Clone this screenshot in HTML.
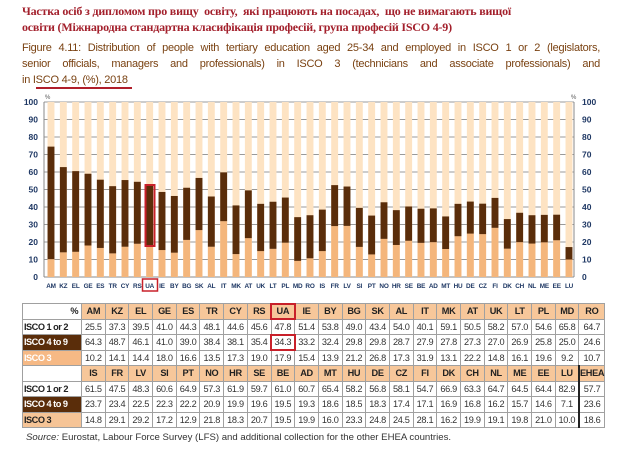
<!DOCTYPE html>
<html><head><meta charset="utf-8"><style>
body{margin:0;width:620px;height:460px;background:#fff;position:relative;overflow:hidden;font-family:"Liberation Sans",sans-serif}
.t1{position:absolute;left:22px;top:3px;width:600px;font-family:"Liberation Serif",serif;font-weight:bold;color:#a3202c;font-size:12px;line-height:16px;letter-spacing:-0.2px;white-space:nowrap}
.t2{position:absolute;left:22px;top:40px;width:578px;color:#7a4212;font-size:11px;line-height:16px;letter-spacing:-0.25px}
.t2 span{display:block;text-align:justify;text-align-last:justify;white-space:nowrap}
.t2 span.last{text-align-last:left}
.ul{position:absolute;left:36px;top:87px;width:96px;height:2px;background:#b01e2a}
svg{position:absolute;left:0;top:0}
table{position:absolute;left:22px;top:303px;border-collapse:collapse;table-layout:fixed;font-size:9.2px;letter-spacing:-0.3px}
td{border:1px solid #a0a0a0;height:14.5px;padding:0;text-align:center;color:#333}
td.l{width:54px;text-align:left;font-weight:bold;color:#222;padding-left:1px;letter-spacing:-0.5px}
tr.h td{background:#f7c79a;font-weight:bold;color:#222}
tr.h td.l{background:#fff;text-align:right;padding-right:3px}
td.d{background:#5a2d0a;color:#fff}
td.o{background:#f6b985;color:#fff}
td.o2{background:#f6c496;color:#222}
td.e{border-left:2px solid #222}
.src{position:absolute;left:26px;top:432px;font-size:9.6px;color:#333}
</style></head><body>
<div class="t1">Частка осіб з дипломом про вищу&nbsp; освіту,&nbsp; які працюють на посадах,&nbsp; що не вимагають вищої<br>освіти (Міжнародна стандартна класифікація професій, група професій ISCO 4-9)</div>
<div class="t2"><span>Figure 4.11: Distribution of people with tertiary education aged 25-34 and employed in ISCO 1 or 2 (legislators,</span><span>senior officials, managers and professionals) in ISCO 3 (technicians and associate professionals) and</span><span class="last">in ISCO 4-9, (%), 2018</span></div>
<div class="ul"></div>
<svg width="620" height="300" viewBox="0 0 620 300">
<g stroke="#999" stroke-width="1">
<line x1="44" x2="574" y1="102" y2="102"/><line x1="44" x2="574" y1="119.5" y2="119.5"/><line x1="44" x2="574" y1="137" y2="137"/><line x1="44" x2="574" y1="154.5" y2="154.5"/><line x1="44" x2="574" y1="172" y2="172"/><line x1="44" x2="574" y1="189.5" y2="189.5"/><line x1="44" x2="574" y1="207" y2="207"/><line x1="44" x2="574" y1="224.5" y2="224.5"/><line x1="44" x2="574" y1="242" y2="242"/><line x1="44" x2="574" y1="259.5" y2="259.5"/>
</g>
<line x1="44" x2="44" y1="102" y2="277" stroke="#888"/><line x1="574" x2="574" y1="102" y2="277" stroke="#888"/>
<line x1="44" x2="574" y1="277" y2="277" stroke="#888"/>
<g font-size="8.5" font-weight="bold" fill="#1f3864" text-anchor="end">
<text x="38" y="105">100</text><text x="38" y="122.5">90</text><text x="38" y="140">80</text><text x="38" y="157.5">70</text><text x="38" y="175">60</text><text x="38" y="192.5">50</text><text x="38" y="210">40</text><text x="38" y="227.5">30</text><text x="38" y="245">20</text><text x="38" y="262.5">10</text><text x="38" y="280">0</text>
</g>
<g font-size="8.5" font-weight="bold" fill="#1f3864" text-anchor="start">
<text x="582" y="105">100</text><text x="582" y="122.5">90</text><text x="582" y="140">80</text><text x="582" y="157.5">70</text><text x="582" y="175">60</text><text x="582" y="192.5">50</text><text x="582" y="210">40</text><text x="582" y="227.5">30</text><text x="582" y="245">20</text><text x="582" y="262.5">10</text><text x="582" y="280">0</text>
</g>
<text x="45" y="99" font-size="6" fill="#555">%</text><text x="571" y="99" font-size="6" fill="#555">%</text>
<g transform="translate(51,277) scale(12.333,-1.75)">
<g fill="#fde3c3">
<rect x="-0.28" width="0.56" y="0" height="100"/><rect x="0.72" width="0.56" y="0" height="100"/><rect x="1.72" width="0.56" y="0" height="100"/><rect x="2.72" width="0.56" y="0" height="100"/><rect x="3.72" width="0.56" y="0" height="100"/><rect x="4.72" width="0.56" y="0" height="100"/><rect x="5.72" width="0.56" y="0" height="100"/><rect x="6.72" width="0.56" y="0" height="100"/><rect x="7.72" width="0.56" y="0" height="100"/><rect x="8.72" width="0.56" y="0" height="100"/><rect x="9.72" width="0.56" y="0" height="100"/><rect x="10.72" width="0.56" y="0" height="100"/><rect x="11.72" width="0.56" y="0" height="100"/><rect x="12.72" width="0.56" y="0" height="100"/><rect x="13.72" width="0.56" y="0" height="100"/><rect x="14.72" width="0.56" y="0" height="100"/><rect x="15.72" width="0.56" y="0" height="100"/><rect x="16.72" width="0.56" y="0" height="100"/><rect x="17.72" width="0.56" y="0" height="100"/><rect x="18.72" width="0.56" y="0" height="100"/><rect x="19.72" width="0.56" y="0" height="100"/><rect x="20.72" width="0.56" y="0" height="100"/><rect x="21.72" width="0.56" y="0" height="100"/><rect x="22.72" width="0.56" y="0" height="100"/><rect x="23.72" width="0.56" y="0" height="100"/><rect x="24.72" width="0.56" y="0" height="100"/><rect x="25.72" width="0.56" y="0" height="100"/><rect x="26.72" width="0.56" y="0" height="100"/><rect x="27.72" width="0.56" y="0" height="100"/><rect x="28.72" width="0.56" y="0" height="100"/><rect x="29.72" width="0.56" y="0" height="100"/><rect x="30.72" width="0.56" y="0" height="100"/><rect x="31.72" width="0.56" y="0" height="100"/><rect x="32.72" width="0.56" y="0" height="100"/><rect x="33.72" width="0.56" y="0" height="100"/><rect x="34.72" width="0.56" y="0" height="100"/><rect x="35.72" width="0.56" y="0" height="100"/><rect x="36.72" width="0.56" y="0" height="100"/><rect x="37.72" width="0.56" y="0" height="100"/><rect x="38.72" width="0.56" y="0" height="100"/><rect x="39.72" width="0.56" y="0" height="100"/><rect x="40.72" width="0.56" y="0" height="100"/><rect x="41.72" width="0.56" y="0" height="100"/>
</g>
<g fill="#f4b67c">
<rect x="-0.28" width="0.56" y="0" height="10.2"/><rect x="0.72" width="0.56" y="0" height="14.1"/><rect x="1.72" width="0.56" y="0" height="14.4"/><rect x="2.72" width="0.56" y="0" height="18.0"/><rect x="3.72" width="0.56" y="0" height="16.6"/><rect x="4.72" width="0.56" y="0" height="13.5"/><rect x="5.72" width="0.56" y="0" height="17.3"/><rect x="6.72" width="0.56" y="0" height="19.0"/><rect x="7.72" width="0.56" y="0" height="17.9"/><rect x="8.72" width="0.56" y="0" height="15.4"/><rect x="9.72" width="0.56" y="0" height="13.9"/><rect x="10.72" width="0.56" y="0" height="21.2"/><rect x="11.72" width="0.56" y="0" height="26.8"/><rect x="12.72" width="0.56" y="0" height="17.3"/><rect x="13.72" width="0.56" y="0" height="31.9"/><rect x="14.72" width="0.56" y="0" height="13.1"/><rect x="15.72" width="0.56" y="0" height="22.2"/><rect x="16.72" width="0.56" y="0" height="14.8"/><rect x="17.72" width="0.56" y="0" height="16.1"/><rect x="18.72" width="0.56" y="0" height="19.6"/><rect x="19.72" width="0.56" y="0" height="9.2"/><rect x="20.72" width="0.56" y="0" height="10.7"/><rect x="21.72" width="0.56" y="0" height="14.8"/><rect x="22.72" width="0.56" y="0" height="29.1"/><rect x="23.72" width="0.56" y="0" height="29.2"/><rect x="24.72" width="0.56" y="0" height="17.2"/><rect x="25.72" width="0.56" y="0" height="12.9"/><rect x="26.72" width="0.56" y="0" height="21.8"/><rect x="27.72" width="0.56" y="0" height="18.3"/><rect x="28.72" width="0.56" y="0" height="20.7"/><rect x="29.72" width="0.56" y="0" height="19.5"/><rect x="30.72" width="0.56" y="0" height="19.9"/><rect x="31.72" width="0.56" y="0" height="16.0"/><rect x="32.72" width="0.56" y="0" height="23.3"/><rect x="33.72" width="0.56" y="0" height="24.8"/><rect x="34.72" width="0.56" y="0" height="24.5"/><rect x="35.72" width="0.56" y="0" height="28.1"/><rect x="36.72" width="0.56" y="0" height="16.2"/><rect x="37.72" width="0.56" y="0" height="19.9"/><rect x="38.72" width="0.56" y="0" height="19.1"/><rect x="39.72" width="0.56" y="0" height="19.8"/><rect x="40.72" width="0.56" y="0" height="21.0"/><rect x="41.72" width="0.56" y="0" height="10.0"/>
</g>
<g fill="#5a2d0a">
<rect x="-0.28" width="0.56" y="10.2" height="64.3"/><rect x="0.72" width="0.56" y="14.1" height="48.7"/><rect x="1.72" width="0.56" y="14.4" height="46.1"/><rect x="2.72" width="0.56" y="18.0" height="41.0"/><rect x="3.72" width="0.56" y="16.6" height="39.0"/><rect x="4.72" width="0.56" y="13.5" height="38.4"/><rect x="5.72" width="0.56" y="17.3" height="38.1"/><rect x="6.72" width="0.56" y="19.0" height="35.4"/><rect x="7.72" width="0.56" y="17.9" height="34.3"/><rect x="8.72" width="0.56" y="15.4" height="33.2"/><rect x="9.72" width="0.56" y="13.9" height="32.4"/><rect x="10.72" width="0.56" y="21.2" height="29.8"/><rect x="11.72" width="0.56" y="26.8" height="29.8"/><rect x="12.72" width="0.56" y="17.3" height="28.7"/><rect x="13.72" width="0.56" y="31.9" height="27.9"/><rect x="14.72" width="0.56" y="13.1" height="27.8"/><rect x="15.72" width="0.56" y="22.2" height="27.3"/><rect x="16.72" width="0.56" y="14.8" height="27.0"/><rect x="17.72" width="0.56" y="16.1" height="26.9"/><rect x="18.72" width="0.56" y="19.6" height="25.8"/><rect x="19.72" width="0.56" y="9.2" height="25.0"/><rect x="20.72" width="0.56" y="10.7" height="24.6"/><rect x="21.72" width="0.56" y="14.8" height="23.7"/><rect x="22.72" width="0.56" y="29.1" height="23.4"/><rect x="23.72" width="0.56" y="29.2" height="22.5"/><rect x="24.72" width="0.56" y="17.2" height="22.3"/><rect x="25.72" width="0.56" y="12.9" height="22.2"/><rect x="26.72" width="0.56" y="21.8" height="20.9"/><rect x="27.72" width="0.56" y="18.3" height="19.9"/><rect x="28.72" width="0.56" y="20.7" height="19.6"/><rect x="29.72" width="0.56" y="19.5" height="19.5"/><rect x="30.72" width="0.56" y="19.9" height="19.3"/><rect x="31.72" width="0.56" y="16.0" height="18.6"/><rect x="32.72" width="0.56" y="23.3" height="18.5"/><rect x="33.72" width="0.56" y="24.8" height="18.3"/><rect x="34.72" width="0.56" y="24.5" height="17.4"/><rect x="35.72" width="0.56" y="28.1" height="17.1"/><rect x="36.72" width="0.56" y="16.2" height="16.9"/><rect x="37.72" width="0.56" y="19.9" height="16.8"/><rect x="38.72" width="0.56" y="19.1" height="16.2"/><rect x="39.72" width="0.56" y="19.8" height="15.7"/><rect x="40.72" width="0.56" y="21.0" height="14.6"/><rect x="41.72" width="0.56" y="10.0" height="7.1"/>
</g>
</g>
<rect x="145.5" y="185" width="9" height="61" fill="none" stroke="#c8202a" stroke-width="2"/>
<rect x="142.5" y="279" width="15" height="12" fill="none" stroke="#c8202a" stroke-width="1.5"/>
<g font-size="6.4" font-weight="bold" fill="#1f3864" text-anchor="middle" letter-spacing="-0.2">
<text x="51" y="288">AM</text><text x="63.3" y="288">KZ</text><text x="75.7" y="288">EL</text><text x="88" y="288">GE</text><text x="100.3" y="288">ES</text><text x="112.7" y="288">TR</text><text x="125" y="288">CY</text><text x="137.3" y="288">RS</text><text x="149.7" y="288">UA</text><text x="162" y="288">IE</text><text x="174.3" y="288">BY</text><text x="186.7" y="288">BG</text><text x="199" y="288">SK</text><text x="211.3" y="288">AL</text><text x="223.7" y="288">IT</text><text x="236" y="288">MK</text><text x="248.3" y="288">AT</text><text x="260.7" y="288">UK</text><text x="273" y="288">LT</text><text x="285.3" y="288">PL</text><text x="297.7" y="288">MD</text><text x="310" y="288">RO</text><text x="322.3" y="288">IS</text><text x="334.7" y="288">FR</text><text x="347" y="288">LV</text><text x="359.3" y="288">SI</text><text x="371.7" y="288">PT</text><text x="384" y="288">NO</text><text x="396.3" y="288">HR</text><text x="408.7" y="288">SE</text><text x="421" y="288">BE</text><text x="433.3" y="288">AD</text><text x="445.7" y="288">MT</text><text x="458" y="288">HU</text><text x="470.3" y="288">DE</text><text x="482.7" y="288">CZ</text><text x="495" y="288">FI</text><text x="507.3" y="288">DK</text><text x="519.7" y="288">CH</text><text x="532" y="288">NL</text><text x="544.3" y="288">ME</text><text x="556.7" y="288">EE</text><text x="569" y="288">LU</text>
</g>
</svg>
<table>
<colgroup><col style="width:54px"><col span="22" style="width:23.7px"></colgroup>
<tr class="h"><td class="l">%</td><td>AM</td><td>KZ</td><td>EL</td><td>GE</td><td>ES</td><td>TR</td><td>CY</td><td>RS</td><td style="outline:2px solid #c8202a;outline-offset:-1px">UA</td><td>IE</td><td>BY</td><td>BG</td><td>SK</td><td>AL</td><td>IT</td><td>MK</td><td>AT</td><td>UK</td><td>LT</td><td>PL</td><td>MD</td><td>RO</td></tr>
<tr><td class="l">ISCO 1 or 2</td><td>25.5</td><td>37.3</td><td>39.5</td><td>41.0</td><td>44.3</td><td>48.1</td><td>44.6</td><td>45.6</td><td>47.8</td><td>51.4</td><td>53.8</td><td>49.0</td><td>43.4</td><td>54.0</td><td>40.1</td><td>59.1</td><td>50.5</td><td>58.2</td><td>57.0</td><td>54.6</td><td>65.8</td><td>64.7</td></tr>
<tr><td class="l d">ISCO 4 to 9</td><td>64.3</td><td>48.7</td><td>46.1</td><td>41.0</td><td>39.0</td><td>38.4</td><td>38.1</td><td>35.4</td><td style="outline:2px solid #c8202a;outline-offset:-1px">34.3</td><td>33.2</td><td>32.4</td><td>29.8</td><td>29.8</td><td>28.7</td><td>27.9</td><td>27.8</td><td>27.3</td><td>27.0</td><td>26.9</td><td>25.8</td><td>25.0</td><td>24.6</td></tr>
<tr><td class="l o">ISCO 3</td><td>10.2</td><td>14.1</td><td>14.4</td><td>18.0</td><td>16.6</td><td>13.5</td><td>17.3</td><td>19.0</td><td>17.9</td><td>15.4</td><td>13.9</td><td>21.2</td><td>26.8</td><td>17.3</td><td>31.9</td><td>13.1</td><td>22.2</td><td>14.8</td><td>16.1</td><td>19.6</td><td>9.2</td><td>10.7</td></tr>
<tr class="h"><td class="l"></td><td>IS</td><td>FR</td><td>LV</td><td>SI</td><td>PT</td><td>NO</td><td>HR</td><td>SE</td><td>BE</td><td>AD</td><td>MT</td><td>HU</td><td>DE</td><td>CZ</td><td>FI</td><td>DK</td><td>CH</td><td>NL</td><td>ME</td><td>EE</td><td>LU</td><td class="e">EHEA</td></tr>
<tr><td class="l">ISCO 1 or 2</td><td>61.5</td><td>47.5</td><td>48.3</td><td>60.6</td><td>64.9</td><td>57.3</td><td>61.9</td><td>59.7</td><td>61.0</td><td>60.7</td><td>65.4</td><td>58.2</td><td>56.8</td><td>58.1</td><td>54.7</td><td>66.9</td><td>63.3</td><td>64.7</td><td>64.5</td><td>64.4</td><td>82.9</td><td class="e">57.7</td></tr>
<tr><td class="l d">ISCO 4 to 9</td><td>23.7</td><td>23.4</td><td>22.5</td><td>22.3</td><td>22.2</td><td>20.9</td><td>19.9</td><td>19.6</td><td>19.5</td><td>19.3</td><td>18.6</td><td>18.5</td><td>18.3</td><td>17.4</td><td>17.1</td><td>16.9</td><td>16.8</td><td>16.2</td><td>15.7</td><td>14.6</td><td>7.1</td><td class="e">23.6</td></tr>
<tr><td class="l o2">ISCO 3</td><td>14.8</td><td>29.1</td><td>29.2</td><td>17.2</td><td>12.9</td><td>21.8</td><td>18.3</td><td>20.7</td><td>19.5</td><td>19.9</td><td>16.0</td><td>23.3</td><td>24.8</td><td>24.5</td><td>28.1</td><td>16.2</td><td>19.9</td><td>19.1</td><td>19.8</td><td>21.0</td><td>10.0</td><td class="e">18.6</td></tr>
</table>
<div class="src"><i>Source:</i> Eurostat, Labour Force Survey (LFS) and additional collection for the other EHEA countries.</div>
</body></html>
